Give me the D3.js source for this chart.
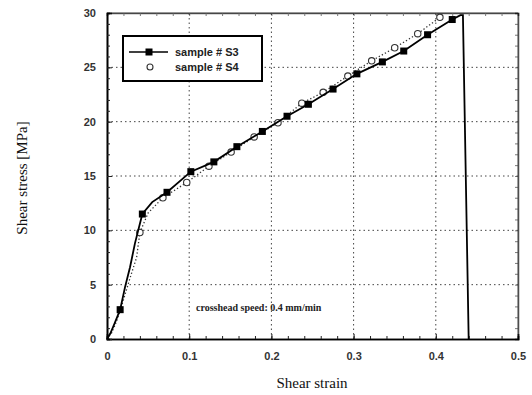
<!DOCTYPE html>
<html lang="en">
<head>
    <meta charset="UTF-8">
    <title>Shear stress vs shear strain</title>
    <script src="https://d3js.org/d3.v7.min.js"></script>
    <style>
        body { margin: 0; background: #fff; }
        svg { display: block; }
    </style>
</head>
<body>
    <svg id="chart" width="532" height="395"></svg>
    <script>
        // sample # S3 - solid line, filled squares
        const s3Strain = [0, 0.004, 0.009, 0.016, 0.022, 0.028, 0.034, 0.043, 0.055, 0.073, 0.102, 0.130, 0.158, 0.189, 0.219, 0.245, 0.275, 0.304, 0.335, 0.361, 0.390, 0.420, 0.430, 0.433, 0.440];
        const s3Stress = [0, 0.5, 1.4, 2.7, 4.8, 6.6, 8.8, 11.5, 12.6, 13.5, 15.4, 16.3, 17.7, 19.1, 20.5, 21.6, 23.0, 24.4, 25.5, 26.5, 28.0, 29.4, 29.8, 29.8, 0];
        const s3Marked = [0.016, 0.043, 0.073, 0.102, 0.130, 0.158, 0.189, 0.219, 0.245, 0.275, 0.304, 0.335, 0.361, 0.390, 0.420];

        // sample # S4 - dotted line, open circles
        const s4Strain = [0, 0.006, 0.012, 0.020, 0.028, 0.036, 0.040, 0.050, 0.068, 0.097, 0.124, 0.151, 0.179, 0.208, 0.237, 0.263, 0.293, 0.322, 0.350, 0.378, 0.405];
        const s4Stress = [0, 0.6, 1.7, 3.6, 5.6, 7.5, 9.8, 11.6, 13.0, 14.4, 15.9, 17.2, 18.6, 19.9, 21.7, 22.7, 24.2, 25.6, 26.8, 28.1, 29.6];
        const s4Marked = [0.040, 0.068, 0.097, 0.124, 0.151, 0.179, 0.208, 0.237, 0.263, 0.293, 0.322, 0.350, 0.378, 0.405];

        const xTicks = [0, 0.1, 0.2, 0.3, 0.4, 0.5];
        const yTicks = [0, 5, 10, 15, 20, 25, 30];
        const legendLabels = ["sample # S3", "sample # S4"];

        const svg = d3.select("#chart");
        const x = d3.scaleLinear().domain([0, 0.5]).range([107, 518]);
        const y = d3.scaleLinear().domain([0, 30]).range([339, 13]);

        const s3 = s3Strain.map((v, i) => ({ x: v, y: s3Stress[i] }));
        const s4 = s4Strain.map((v, i) => ({ x: v, y: s4Stress[i] }));

        // grid (dotted)
        const grid = svg.append("g").attr("stroke", "#444").attr("stroke-width", 1).attr("stroke-dasharray", "1.5,3");
        grid.selectAll(".gx").data(xTicks.slice(1, -1)).join("line")
            .attr("x1", d => x(d)).attr("x2", d => x(d))
            .attr("y1", y(0)).attr("y2", y(30));
        grid.selectAll(".gy").data(yTicks.slice(1, -1)).join("line")
            .attr("x1", x(0)).attr("x2", x(0.5))
            .attr("y1", d => y(d)).attr("y2", d => y(d));

        // frame: top and right lighter
        svg.append("line").attr("x1", x(0)).attr("x2", x(0.5)).attr("y1", y(30)).attr("y2", y(30))
            .attr("stroke", "#666").attr("stroke-width", 1);
        svg.append("line").attr("x1", x(0.5)).attr("x2", x(0.5)).attr("y1", y(30)).attr("y2", y(0))
            .attr("stroke", "#888").attr("stroke-width", 1);

        // axes with inward ticks
        const fmtX = d => d === 0 ? "0" : d3.format(".1f")(d);
        const bottom = svg.append("g").attr("transform", `translate(0,${y(0)})`)
            .call(d3.axisBottom(x).tickValues(xTicks).tickSize(-5).tickPadding(13).tickFormat(fmtX));
        bottom.append("g").call(d3.axisBottom(x).tickValues(d3.range(0.02, 0.5, 0.02)).tickSize(-3).tickFormat(""));

        const left = svg.append("g").attr("transform", `translate(${x(0)},0)`)
            .call(d3.axisLeft(y).tickValues(yTicks).tickSize(-5).tickPadding(11));
        left.append("g").call(d3.axisLeft(y).tickValues(d3.range(1, 30, 1)).tickSize(-3).tickFormat(""));

        svg.append("g").attr("transform", `translate(0,${y(30)})`)
            .call(d3.axisTop(x).tickValues(d3.range(0.02, 0.5, 0.02)).tickSize(-3).tickFormat(""))
            .attr("opacity", 0.6);
        svg.append("g").attr("transform", `translate(${x(0.5)},0)`)
            .call(d3.axisRight(y).tickValues(d3.range(1, 30, 1)).tickSize(-3).tickFormat(""))
            .attr("opacity", 0.6);

        svg.selectAll(".domain").attr("stroke", "#000").attr("stroke-width", 1.6);
        svg.selectAll(".tick line").attr("stroke", "#222");
        svg.selectAll(".tick text")
            .attr("font-family", "Liberation Sans, Arial, sans-serif")
            .attr("font-size", 11).attr("font-weight", "bold").attr("fill", "#333");

        // S4 dotted line + open circles
        const line = d3.line().x(d => x(d.x)).y(d => y(d.y));
        svg.append("path").datum(s4).attr("d", line)
            .attr("fill", "none").attr("stroke", "#333").attr("stroke-width", 1.3)
            .attr("stroke-dasharray", "1.3,2.2");
        svg.selectAll(".c4").data(s4.filter(d => s4Marked.includes(d.x))).join("circle")
            .attr("cx", d => x(d.x)).attr("cy", d => y(d.y)).attr("r", 3.2)
            .attr("fill", "#fff").attr("stroke", "#333").attr("stroke-width", 1.1);

        // S3 solid line + filled squares
        svg.append("path").datum(s3).attr("d", line)
            .attr("fill", "none").attr("stroke", "#000").attr("stroke-width", 1.8);
        svg.selectAll(".s3").data(s3.filter(d => s3Marked.includes(d.x))).join("rect")
            .attr("x", d => x(d.x) - 3.5).attr("y", d => y(d.y) - 3.5)
            .attr("width", 7).attr("height", 7).attr("fill", "#000");

        // legend
        const lg = svg.append("g");
        lg.append("rect").attr("x", 123).attr("y", 36).attr("width", 139).attr("height", 45)
            .attr("fill", "#fff").attr("stroke", "#000").attr("stroke-width", 2);
        lg.append("line").attr("x1", 129).attr("x2", 168).attr("y1", 52).attr("y2", 52)
            .attr("stroke", "#000").attr("stroke-width", 1.5);
        lg.append("rect").attr("x", 145.5).attr("y", 48.5).attr("width", 7).attr("height", 7).attr("fill", "#000");
        lg.append("circle").attr("cx", 150).attr("cy", 67).attr("r", 3)
            .attr("fill", "#fff").attr("stroke", "#333").attr("stroke-width", 1.1);
        lg.selectAll("text").data(legendLabels).join("text")
            .attr("x", 175).attr("y", (d, i) => 52 + i * 15).attr("dy", "0.35em")
            .attr("font-family", "Liberation Sans, Arial, sans-serif").attr("font-size", 11)
            .attr("font-weight", "bold").attr("fill", "#222").text(d => d);

        // annotation
        svg.append("text").attr("x", 196).attr("y", 311)
            .attr("font-family", "Liberation Serif, Times New Roman, serif").attr("font-size", 10)
            .attr("font-weight", "bold").attr("fill", "#222")
            .text("crosshead speed: 0.4 mm/min");

        // axis titles
        svg.append("text").attr("x", 312).attr("y", 388).attr("text-anchor", "middle")
            .attr("font-family", "Liberation Serif, Times New Roman, serif").attr("font-size", 15)
            .attr("fill", "#111").text("Shear strain");
        svg.append("text").attr("transform", "translate(27,178) rotate(-90)").attr("text-anchor", "middle")
            .attr("font-family", "Liberation Serif, Times New Roman, serif").attr("font-size", 15)
            .attr("fill", "#111").text("Shear stress [MPa]");
    </script>
</body>
</html>
